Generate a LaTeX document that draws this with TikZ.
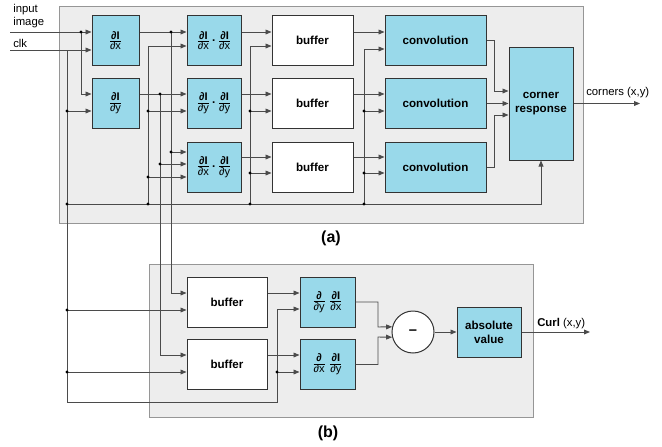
\documentclass[tikz,border=0pt]{standalone}
\usepackage{fontspec}
\setmainfont{Liberation Sans}
\usetikzlibrary{arrows.meta}
\definecolor{blk}{RGB}{153,217,234}
\definecolor{pan}{RGB}{237,237,237}
\definecolor{panb}{RGB}{150,150,150}
\definecolor{ln}{RGB}{75,75,75}
\tikzset{
 blockbox/.style={draw=black!80, line width=0.75pt, fill=blk, inner sep=0pt, minimum height=37.5pt, align=center, font=\fontsize{8.7}{10.5}\selectfont\bfseries},
 whitebox/.style={blockbox, fill=white},
 wire/.style={draw=ln, line width=0.7pt},
 arr/.style={wire, -{Triangle[length=4.5pt,width=3.6pt]}},
 lab/.style={font=\fontsize{8.5}{9.75}\selectfont, inner sep=0pt},
 junction/.style={fill=black, draw=none},
}
\newcommand\dfr[2]{$\frac{\mbox{\fontsize{8.3}{9}\selectfont #1}}{\mbox{\fontsize{8.3}{9}\selectfont\mdseries #2}}$}
\newcommand\pdot{\kern1.2pt\raisebox{-0.5pt}{\textbf{·}}\kern1.2pt}
\begin{document}
\begin{tikzpicture}[x=0.75pt,y=-0.75pt]
\useasboundingbox (0,0) rectangle (662,447);
% panels
\fill[pan, draw=panb, line width=0.75pt] (59,6) rectangle (583,223);
\fill[pan, draw=panb, line width=0.75pt] (149,264) rectangle (533,417);
\node[font=\fontsize{12}{14}\selectfont\bfseries] (la) at (331,238) {(a)};
\node[font=\fontsize{12}{14}\selectfont\bfseries] (lb) at (328,433) {(b)};
% blocks (a)
\node[blockbox, minimum width=35.25pt] (dx) at (115.5,40.5) {\dfr{∂I}{∂x}};
\node[blockbox, minimum width=35.25pt] (dy) at (115.5,103.5) {\dfr{∂I}{∂y}};
\node[blockbox, minimum width=40.5pt] (p1) at (214,40.5) {\dfr{∂I}{∂x}\pdot\dfr{∂I}{∂x}};
\node[blockbox, minimum width=40.5pt] (p2) at (214,103.5) {\dfr{∂I}{∂y}\pdot\dfr{∂I}{∂y}};
\node[blockbox, minimum width=40.5pt] (p3) at (214,167) {\dfr{∂I}{∂x}\pdot\dfr{∂I}{∂y}};
\node[whitebox, minimum width=60.75pt] (b1) at (312.5,40.5) {buffer};
\node[whitebox, minimum width=60.75pt] (b2) at (312.5,103.5) {buffer};
\node[whitebox, minimum width=60.75pt] (b3) at (312.5,167) {buffer};
\node[blockbox, minimum width=75.75pt] (c1) at (435.5,40.5) {convolution};
\node[blockbox, minimum width=75.75pt] (c2) at (435.5,103.5) {convolution};
\node[blockbox, minimum width=75.75pt] (c3) at (435.5,167) {convolution};
\node[blockbox, minimum width=48pt, minimum height=84.75pt] (cr) at (541,103.5) {corner\\response};
% blocks (b)
\node[whitebox, minimum width=60pt] (bb1) at (227,302) {buffer};
\node[whitebox, minimum width=60pt] (bb2) at (227,364.5) {buffer};
\node[blockbox, minimum width=41.25pt] (db1) at (327.5,302) {\dfr{∂}{∂y}\kern2pt\dfr{∂I}{∂x}};
\node[blockbox, minimum width=41.25pt] (db2) at (327.5,364.5) {\dfr{∂}{∂x}\kern2pt\dfr{∂I}{∂y}};
\node[blockbox, fill=white, circle, minimum size=31.5pt] (circ) at (413,332) {\fontsize{11}{12}\selectfont –};
\node[blockbox, minimum width=48pt] (abs) at (489,332) {absolute\\value};
% labels
\node[lab, anchor=north west, align=left] (tin) at (13,4) {input\\image};
\node[lab, anchor=base west] (tclk) at (13,47) {clk};
\node[lab, anchor=base west] (tcor) at (586,95) {corners (x,y)};
\node[lab, anchor=base west] (tcurl) at (537,326) {\textbf{Curl} (x,y)};
% free ends
\coordinate (inimg) at (10,32);
\coordinate (clk) at (10,50);
\coordinate (cout) at (640,103.5);
\coordinate (curlout) at (590,332);
% inputs and clk
\draw[arr] (inimg) -- (dx.west |- inimg);
\draw[arr] (clk) -- (dx.west |- clk);
\draw[arr] (81,32) |- (dy.west |- 0,94);
\draw[arr] (67,111) -- (dy.west |- 0,111);
\draw[arr] (67,50) -- (67,402) -- (277,402) -- (277,309) -- (db1.west |- 0,309);
\draw[arr] (277,372) -- (db2.west |- 0,372);
\draw[arr] (67,310) -- (bb1.west |- 0,310);
\draw[arr] (67,372) -- (bb2.west |- 0,372);
\draw[arr] (67,204) -| (cr.south);
% derivatives out
\draw[arr] (dx.east |- 0,32) -- (p1.west |- 0,32);
\draw[arr] (171,32) |- (bb1.west |- 0,293);
\draw[arr] (171,152) -- (p3.west |- 0,152);
\draw[arr] (dy.east |- 0,94) -- (p2.west |- 0,94);
\draw[arr] (160,94) |- (bb2.west |- 0,355);
\draw[arr] (160,164) -- (p3.west |- 0,164);
% clk to products
\draw[arr] (148,204) |- (p1.west |- 0,46);
\draw[arr] (148,111) -- (p2.west |- 0,111);
\draw[arr] (148,177) -- (p3.west |- 0,177);
% products to buffers
\draw[arr] (p1.east |- 0,32) -- (b1.west |- 0,32);
\draw[arr] (p2.east |- 0,94) -- (b2.west |- 0,94);
\draw[arr] (p3.east |- 0,157) -- (b3.west |- 0,157);
\draw[arr] (250,204) |- (b1.west |- 0,46);
\draw[arr] (250,111) -- (b2.west |- 0,111);
\draw[arr] (250,173) -- (b3.west |- 0,173);
% buffers to convolutions
\draw[arr] (b1.east |- 0,32) -- (c1.west |- 0,32);
\draw[arr] (b2.east |- 0,94) -- (c2.west |- 0,94);
\draw[arr] (b3.east |- 0,157) -- (c3.west |- 0,157);
\draw[arr] (364,204) |- (c1.west |- 0,49);
\draw[arr] (364,111) -- (c2.west |- 0,111);
\draw[arr] (364,173) -- (c3.west |- 0,173);
% convolutions to corner response
\draw[arr] (c1.east) -| (494,91) -- (cr.west |- 0,91);
\draw[arr] (c2.east) -- (cr.west |- c2.east);
\draw[arr] (c3.east) -| (494,115) -- (cr.west |- 0,115);
\draw[arr] (cr.east) -- (cout);
% panel (b)
\draw[arr] (bb1.east |- 0,293) -- (db1.west |- 0,293);
\draw[arr] (bb2.east |- 0,355) -- (db2.west |- 0,355);
\draw[arr] (db1.east) -| (378,327) -- (circ.166);
\draw[arr] (db2.east) -| (378,337) -- (circ.194);
\draw[arr] (circ) -- (abs);
\draw[arr] (abs) -- (curlout);
% junction dots
\foreach \p in {(81,32),(171,32),(160,94),(171,152),(160,164),(148,111),(148,177),(148,204),(67,111),(67,204),(250,111),(250,173),(250,204),(364,111),(364,173),(364,204),(67,310),(67,372),(277,372)}
  \fill[junction] \p circle (1.3pt);
\end{tikzpicture}
\end{document}
